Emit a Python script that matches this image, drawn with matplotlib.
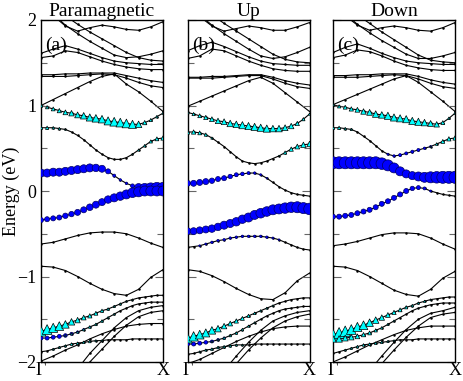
import numpy as np
import matplotlib.pyplot as plt
from matplotlib.ticker import MultipleLocator

plt.rcParams['font.family'] = ['Liberation Serif', 'DejaVu Serif']

TITLES = ["Paramagnetic", "Up", "Down"]
TAGS = ["(a)", "(b)", "(c)"]
K_LABELS = ["\u0393", "X"]

# band energies in eV, k runs from Gamma (0) to X (1)
# plain bands: 11 k-points
para_plain = [
    [2.15, 2.05, 1.93, 1.87, 1.91, 1.94, 1.92, 1.89, 1.88, 1.92, 1.98],
    [2.30, 2.20, 2.05, 1.95, 1.86, 1.78, 1.70, 1.62, 1.56, 1.53, 1.52],
    [2.20, 2.07, 1.94, 1.84, 1.75, 1.67, 1.59, 1.56, 1.57, 1.60, 1.64],
    [1.61, 1.66, 1.70, 1.66, 1.61, 1.56, 1.52, 1.50, 1.49, 1.48, 1.48],
    [1.56, 1.58, 1.64, 1.62, 1.57, 1.52, 1.48, 1.45, 1.43, 1.42, 1.42],
    [1.36, 1.36, 1.37, 1.37, 1.38, 1.38, 1.38, 1.35, 1.32, 1.29, 1.27],
    [1.34, 1.34, 1.34, 1.35, 1.36, 1.37, 1.36, 1.32, 1.27, 1.23, 1.21],
    [1.00, 1.07, 1.14, 1.21, 1.28, 1.34, 1.37, 1.25, 1.16, 1.05, 0.93],
    [-0.62, -0.60, -0.56, -0.52, -0.49, -0.48, -0.48, -0.50, -0.55, -0.61, -0.66],
    [-0.88, -0.89, -0.93, -1.00, -1.08, -1.15, -1.20, -1.22, -1.15, -1.01, -0.92],
    [-1.99, -1.93, -1.86, -1.80, -1.73, -1.67, -1.62, -1.58, -1.56, -1.55, -1.55],
    [-2.50, -2.40, -2.30, -2.08, -1.90, -1.75, -1.60, -1.48, -1.40, -1.36, -1.34],
    [-2.60, -2.50, -2.40, -2.20, -2.00, -1.85, -1.70, -1.57, -1.47, -1.42, -1.40],
]
up_plain = [
    [2.15, 2.04, 1.93, 1.87, 1.90, 1.93, 1.91, 1.88, 1.88, 1.92, 1.97],
    [2.30, 2.20, 2.06, 1.96, 1.87, 1.78, 1.69, 1.60, 1.54, 1.51, 1.50],
    [2.20, 2.06, 1.94, 1.84, 1.75, 1.66, 1.58, 1.55, 1.57, 1.62, 1.68],
    [1.64, 1.70, 1.74, 1.69, 1.63, 1.57, 1.52, 1.49, 1.48, 1.47, 1.47],
    [1.55, 1.58, 1.66, 1.64, 1.58, 1.52, 1.47, 1.43, 1.41, 1.40, 1.40],
    [1.33, 1.33, 1.34, 1.34, 1.35, 1.36, 1.36, 1.33, 1.29, 1.26, 1.24],
    [1.32, 1.32, 1.32, 1.33, 1.34, 1.35, 1.35, 1.31, 1.26, 1.22, 1.20],
    [0.99, 1.05, 1.11, 1.17, 1.23, 1.29, 1.33, 1.26, 1.15, 1.04, 0.93],
    [-0.92, -0.94, -0.99, -1.06, -1.14, -1.21, -1.26, -1.27, -1.19, -1.05, -0.96],
    [-2.02, -1.97, -1.90, -1.83, -1.76, -1.70, -1.65, -1.61, -1.59, -1.58, -1.58],
    [-2.50, -2.40, -2.30, -2.10, -1.93, -1.77, -1.63, -1.52, -1.46, -1.42, -1.40],
    [-2.60, -2.50, -2.40, -2.20, -2.02, -1.86, -1.72, -1.60, -1.52, -1.47, -1.44],
]
down_plain = [
    [2.15, 2.05, 1.94, 1.88, 1.91, 1.93, 1.91, 1.88, 1.87, 1.91, 1.97],
    [2.30, 2.20, 2.06, 1.96, 1.86, 1.77, 1.68, 1.59, 1.53, 1.51, 1.50],
    [2.20, 2.07, 1.95, 1.85, 1.76, 1.68, 1.60, 1.55, 1.55, 1.58, 1.62],
    [1.62, 1.68, 1.72, 1.67, 1.61, 1.56, 1.52, 1.50, 1.49, 1.48, 1.48],
    [1.56, 1.59, 1.65, 1.63, 1.58, 1.52, 1.47, 1.44, 1.42, 1.41, 1.41],
    [1.35, 1.35, 1.36, 1.36, 1.37, 1.37, 1.37, 1.34, 1.30, 1.27, 1.25],
    [1.33, 1.33, 1.33, 1.34, 1.35, 1.36, 1.35, 1.31, 1.26, 1.22, 1.20],
    [1.01, 1.07, 1.13, 1.19, 1.25, 1.31, 1.35, 1.27, 1.16, 1.05, 0.93],
    [-0.64, -0.62, -0.59, -0.55, -0.51, -0.49, -0.49, -0.50, -0.55, -0.62, -0.68],
    [-0.88, -0.89, -0.93, -1.00, -1.08, -1.16, -1.21, -1.23, -1.15, -1.02, -0.94],
    [-2.00, -1.94, -1.87, -1.80, -1.74, -1.68, -1.63, -1.60, -1.58, -1.58, -1.58],
    [-2.50, -2.40, -2.30, -2.10, -1.93, -1.77, -1.62, -1.50, -1.43, -1.40, -1.36],
    [-2.60, -2.50, -2.40, -2.20, -2.02, -1.86, -1.71, -1.58, -1.48, -1.44, -1.42],
]

# projected bands: 21 k-points, with triangle (cyan) and circle (blue) weights
para_bands = [
    [1.00, 0.98, 0.96, 0.94, 0.92, 0.91, 0.89, 0.88, 0.86, 0.85, 0.84, 0.82, 0.81, 0.80, 0.79, 0.78, 0.78, 0.80, 0.83, 0.87, 0.91],
    [0.74, 0.74, 0.74, 0.73, 0.72, 0.69, 0.65, 0.60, 0.54, 0.48, 0.43, 0.39, 0.37, 0.37, 0.39, 0.43, 0.48, 0.53, 0.58, 0.61, 0.62],
    [0.21, 0.21, 0.22, 0.22, 0.23, 0.24, 0.25, 0.26, 0.27, 0.27, 0.26, 0.23, 0.18, 0.13, 0.09, 0.06, 0.04, 0.03, 0.03, 0.03, 0.03],
    [-0.34, -0.33, -0.32, -0.31, -0.29, -0.27, -0.25, -0.22, -0.19, -0.16, -0.13, -0.10, -0.08, -0.06, -0.04, -0.02, -0.01, 0.00, 0.00, 0.00, 0.00],
    [-1.64, -1.62, -1.60, -1.58, -1.56, -1.53, -1.51, -1.48, -1.46, -1.43, -1.40, -1.38, -1.35, -1.32, -1.29, -1.27, -1.25, -1.24, -1.23, -1.22, -1.22],
    [-1.72, -1.72, -1.71, -1.70, -1.69, -1.67, -1.65, -1.62, -1.59, -1.56, -1.52, -1.48, -1.44, -1.40, -1.37, -1.34, -1.32, -1.31, -1.30, -1.30, -1.30],
    [-1.88, -1.87, -1.85, -1.83, -1.81, -1.79, -1.78, -1.77, -1.76, -1.75, -1.75, -1.74, -1.74, -1.74, -1.74, -1.73, -1.73, -1.73, -1.73, -1.73, -1.73],
]
para_tri = [
    [0.25, 0.25, 0.3, 0.33, 0.37, 0.42, 0.45, 0.5, 0.55, 0.58, 0.58, 0.62, 0.67, 0.67, 0.67, 0.62, 0.5, 0.33, 0.25, 0.2, 0.17],
    [0.25, 0.25, 0.2, 0.2, 0.12, 0, 0, 0, 0, 0, 0, 0, 0, 0, 0, 0.12, 0.17, 0.2, 0.25, 0.3, 0.33],
    [0] * 21,
    [0] * 21,
    [0.75, 0.75, 0.7, 0.67, 0.58, 0.5, 0.42, 0.37, 0.33, 0.3, 0.25, 0.2, 0.17, 0.17, 0.12, 0.12, 0, 0, 0, 0, 0],
    [0, 0, 0, 0, 0.15, 0.17, 0.17, 0.2, 0.2, 0.2, 0.2, 0.17, 0.15, 0, 0, 0, 0, 0, 0, 0, 0],
    [0, 0, 0.15, 0.17, 0.17, 0.2, 0.2, 0.2, 0.2, 0.17, 0.15, 0, 0, 0, 0, 0, 0, 0, 0, 0, 0],
]
para_circ = [
    [0] * 21,
    [0] * 21,
    [0.67, 0.67, 0.67, 0.67, 0.67, 0.67, 0.67, 0.67, 0.67, 0.62, 0.58, 0.42, 0.25, 0.2, 0.2, 0.33, 0.67, 0.83, 0.92, 1.0, 1.0],
    [0.42, 0.42, 0.42, 0.42, 0.45, 0.45, 0.5, 0.5, 0.55, 0.58, 0.58, 0.62, 0.67, 0.7, 0.75, 0.8, 0.83, 0.83, 0.83, 0.83, 0.83],
    [0] * 21,
    [0.33, 0.33, 0.33, 0.33, 0.3, 0.25, 0.2, 0.17, 0.12, 0, 0, 0, 0, 0, 0, 0, 0, 0, 0, 0, 0],
    [0] * 21,
]

up_bands = [
    [0.92, 0.90, 0.88, 0.86, 0.84, 0.82, 0.81, 0.79, 0.78, 0.77, 0.76, 0.75, 0.74, 0.73, 0.73, 0.73, 0.74, 0.76, 0.79, 0.84, 0.90],
    [0.69, 0.69, 0.68, 0.66, 0.62, 0.57, 0.52, 0.46, 0.40, 0.35, 0.33, 0.32, 0.33, 0.35, 0.38, 0.41, 0.45, 0.49, 0.52, 0.54, 0.55],
    [0.09, 0.09, 0.10, 0.11, 0.12, 0.14, 0.15, 0.17, 0.19, 0.20, 0.21, 0.21, 0.19, 0.15, 0.10, 0.05, 0.01, -0.02, -0.04, -0.05, -0.06],
    [-0.47, -0.47, -0.46, -0.45, -0.44, -0.42, -0.40, -0.38, -0.36, -0.33, -0.31, -0.28, -0.26, -0.24, -0.22, -0.21, -0.20, -0.19, -0.19, -0.20, -0.21],
    [-0.66, -0.65, -0.64, -0.62, -0.60, -0.58, -0.57, -0.55, -0.54, -0.53, -0.53, -0.53, -0.53, -0.54, -0.55, -0.57, -0.60, -0.63, -0.66, -0.68, -0.69],
    [-1.72, -1.70, -1.68, -1.66, -1.63, -1.61, -1.58, -1.55, -1.52, -1.49, -1.46, -1.43, -1.40, -1.37, -1.34, -1.31, -1.29, -1.27, -1.26, -1.25, -1.25],
    [-1.79, -1.79, -1.78, -1.77, -1.76, -1.74, -1.72, -1.69, -1.66, -1.62, -1.58, -1.54, -1.50, -1.46, -1.43, -1.40, -1.38, -1.37, -1.36, -1.35, -1.35],
    [-1.91, -1.90, -1.88, -1.86, -1.85, -1.83, -1.82, -1.81, -1.80, -1.80, -1.80, -1.79, -1.79, -1.79, -1.79, -1.79, -1.79, -1.79, -1.79, -1.79, -1.79],
]
up_tri = [
    [0.25, 0.25, 0.3, 0.33, 0.37, 0.42, 0.45, 0.5, 0.5, 0.55, 0.55, 0.55, 0.55, 0.55, 0.5, 0.5, 0.45, 0.42, 0.33, 0.25, 0.17],
    [0.33, 0.33, 0.3, 0.25, 0.17, 0, 0, 0, 0, 0, 0, 0, 0, 0, 0, 0.12, 0.25, 0.33, 0.37, 0.42, 0.42],
    [0] * 21,
    [0] * 21,
    [0] * 21,
    [0.75, 0.72, 0.67, 0.62, 0.58, 0.5, 0.42, 0.37, 0.33, 0.3, 0.25, 0.2, 0.17, 0.15, 0.12, 0, 0, 0, 0, 0, 0],
    [0, 0, 0, 0, 0.15, 0.17, 0.2, 0.2, 0.2, 0.2, 0.17, 0.15, 0, 0, 0, 0, 0, 0, 0, 0, 0],
    [0, 0, 0.15, 0.17, 0.2, 0.2, 0.2, 0.2, 0.17, 0.15, 0, 0, 0, 0, 0, 0, 0, 0, 0, 0, 0],
]
up_circ = [
    [0] * 21,
    [0] * 21,
    [0.5, 0.5, 0.5, 0.5, 0.45, 0.42, 0.42, 0.37, 0.33, 0.3, 0.25, 0.2, 0.17, 0.12, 0, 0, 0, 0, 0, 0, 0],
    [0.58, 0.58, 0.58, 0.58, 0.62, 0.62, 0.67, 0.67, 0.7, 0.7, 0.75, 0.75, 0.8, 0.8, 0.83, 0.83, 0.87, 0.87, 0.92, 0.92, 0.96],
    [0, 0, 0.15, 0.17, 0.2, 0.2, 0.2, 0.2, 0.2, 0.2, 0.2, 0.2, 0.2, 0.2, 0.17, 0.15, 0, 0, 0, 0, 0],
    [0] * 21,
    [0.33, 0.33, 0.33, 0.3, 0.25, 0.2, 0.17, 0, 0, 0, 0, 0, 0, 0, 0, 0, 0, 0, 0, 0, 0],
    [0] * 21,
]

down_bands = [
    [1.01, 0.99, 0.98, 0.96, 0.95, 0.93, 0.92, 0.90, 0.89, 0.88, 0.86, 0.85, 0.84, 0.82, 0.81, 0.80, 0.79, 0.78, 0.80, 0.85, 0.91],
    [0.74, 0.74, 0.73, 0.72, 0.69, 0.64, 0.59, 0.53, 0.47, 0.43, 0.41, 0.42, 0.44, 0.46, 0.48, 0.50, 0.52, 0.55, 0.58, 0.61, 0.62],
    [0.33, 0.33, 0.33, 0.33, 0.33, 0.33, 0.33, 0.33, 0.32, 0.30, 0.27, 0.23, 0.20, 0.18, 0.17, 0.16, 0.16, 0.16, 0.16, 0.16, 0.16],
    [-0.30, -0.30, -0.29, -0.28, -0.26, -0.24, -0.22, -0.19, -0.15, -0.12, -0.08, -0.04, 0.00, 0.03, 0.04, 0.03, 0.00, -0.02, -0.04, -0.05, -0.06],
    [-1.68, -1.66, -1.64, -1.62, -1.59, -1.57, -1.54, -1.51, -1.48, -1.45, -1.42, -1.39, -1.36, -1.34, -1.31, -1.29, -1.27, -1.26, -1.25, -1.24, -1.24],
    [-1.73, -1.73, -1.72, -1.71, -1.70, -1.68, -1.66, -1.63, -1.60, -1.56, -1.52, -1.48, -1.44, -1.40, -1.37, -1.35, -1.33, -1.32, -1.31, -1.31, -1.31],
    [-1.90, -1.88, -1.86, -1.84, -1.82, -1.80, -1.79, -1.78, -1.77, -1.76, -1.75, -1.74, -1.74, -1.74, -1.73, -1.73, -1.73, -1.73, -1.73, -1.73, -1.73],
]
down_tri = [
    [0.2, 0.25, 0.3, 0.33, 0.37, 0.42, 0.45, 0.5, 0.5, 0.55, 0.55, 0.55, 0.55, 0.55, 0.55, 0.5, 0.45, 0.42, 0.3, 0.2, 0.17],
    [0.25, 0.25, 0.2, 0.17, 0, 0, 0, 0, 0, 0, 0, 0, 0, 0, 0, 0, 0.12, 0.2, 0.3, 0.33, 0.33],
    [0] * 21,
    [0] * 21,
    [0.83, 0.83, 0.8, 0.75, 0.7, 0.67, 0.58, 0.5, 0.42, 0.37, 0.33, 0.3, 0.25, 0.2, 0.17, 0.17, 0.12, 0, 0, 0, 0],
    [0.5, 0.5, 0.45, 0.42, 0.37, 0.33, 0.3, 0.25, 0.2, 0.17, 0.15, 0, 0, 0, 0, 0, 0, 0, 0, 0, 0],
    [0, 0, 0.15, 0.17, 0.2, 0.2, 0.2, 0.2, 0.2, 0.17, 0.15, 0, 0, 0, 0, 0, 0, 0, 0, 0, 0],
]
down_circ = [
    [0] * 21,
    [0, 0, 0, 0, 0, 0, 0, 0, 0, 0.17, 0.2, 0.25, 0.25, 0.25, 0.25, 0.2, 0.17, 0, 0, 0, 0],
    [1, 1, 1, 1, 1, 1, 1, 1, 0.96, 0.92, 0.83, 0.75, 0.67, 0.67, 0.75, 0.83, 0.92, 0.96, 1, 1, 1],
    [0.42, 0.42, 0.42, 0.42, 0.42, 0.42, 0.42, 0.42, 0.42, 0.42, 0.42, 0.42, 0.42, 0.37, 0.33, 0.25, 0.17, 0, 0, 0, 0],
    [0] * 21,
    [0.33, 0.33, 0.3, 0.25, 0.2, 0, 0, 0, 0, 0, 0, 0, 0, 0, 0, 0, 0, 0, 0, 0, 0],
    [0] * 21,
]

CIRC_PT = 12 * 0.72   # biggest circle, about 12 px across
TRI_PT = 13 * 0.72


def draw_band(ax, e):
    k = np.linspace(0, 1, len(e))
    ax.plot(k, e, '-', color='k', lw=0.8, zorder=1)
    ax.plot(k, e, 'o', color='k', ms=0.8, zorder=2)
    return k, np.asarray(e)


def draw_panel(ax, plain, bands, tri, circ, title, tag):
    for e in plain:
        draw_band(ax, e)
    for e, wt, wc in zip(bands, tri, circ):
        k, e = draw_band(ax, e)
        wt = np.asarray(wt, float)
        wc = np.asarray(wc, float)
        m = wc > 0
        ax.scatter(k[m], e[m], s=(wc[m] * CIRC_PT) ** 2, marker='o',
                   c='#0000ff', edgecolors='#000060', linewidths=0.5, zorder=3)
        m = wt > 0
        ax.scatter(k[m], e[m], s=(wt[m] * TRI_PT) ** 2, marker='^',
                   c='#00ffff', edgecolors='k', linewidths=0.5, zorder=4)

    ax.set_xlim(0, 1)
    ax.set_ylim(-2, 2)
    ax.set_xticks([0, 1])
    ax.set_xticklabels(K_LABELS, fontsize=13)
    ax.tick_params(axis='x', length=0, pad=0)
    ax.yaxis.set_major_locator(MultipleLocator(1))
    ax.yaxis.set_minor_locator(MultipleLocator(0.5))
    ax.tick_params(axis='y', which='both', direction='in', left=True, right=True,
                   color='#666666', width=0.8, labelsize=13)
    ax.tick_params(axis='y', which='major', length=6)
    ax.tick_params(axis='y', which='minor', length=4)
    ax.set_title(title, fontsize=14, pad=2)
    ax.text(0.035, 0.925, tag, transform=ax.transAxes, fontsize=14,
            ha='left', va='center', zorder=5)
    for sp in ax.spines.values():
        sp.set_linewidth(1.0)


fig = plt.figure(figsize=(4.63, 3.81), dpi=100)
lefts = [41 / 463, 187.5 / 463, 333 / 463]
panels = [
    (para_plain, para_bands, para_tri, para_circ),
    (up_plain, up_bands, up_tri, up_circ),
    (down_plain, down_bands, down_tri, down_circ),
]
for i, (plain, bands, tri, circ) in enumerate(panels):
    ax = fig.add_axes([lefts[i], 19 / 381, 122 / 463, 342 / 381])
    draw_panel(ax, plain, bands, tri, circ, TITLES[i], TAGS[i])
    if i == 0:
        ax.set_ylabel("Energy (eV)", fontsize=13)
        ax.yaxis.set_label_coords(-0.17, 0.5)
    else:
        ax.tick_params(axis='y', labelleft=False)

fig.savefig("out.png", dpi=100)
